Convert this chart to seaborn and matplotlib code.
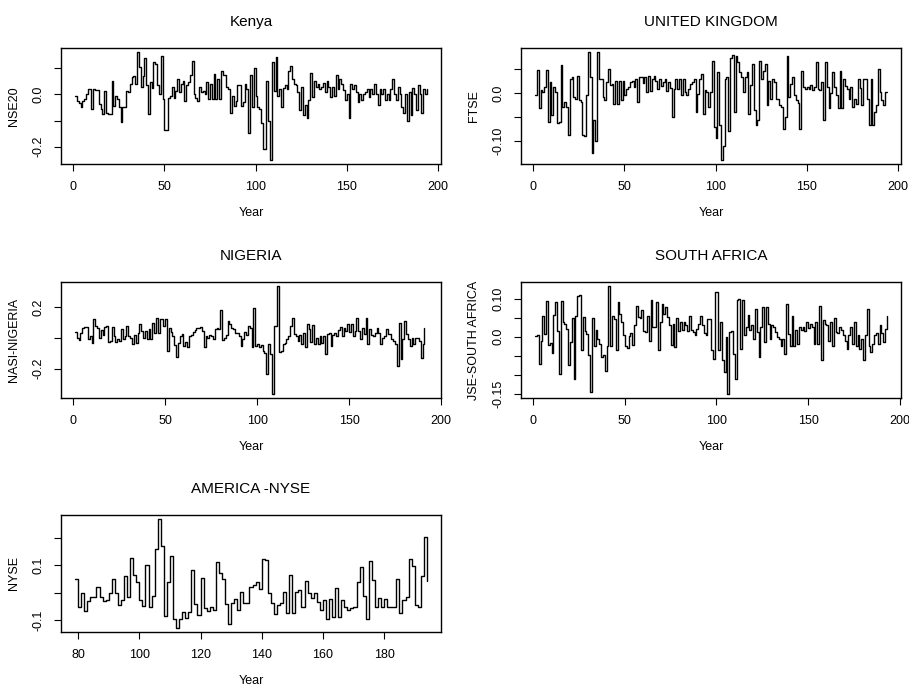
import numpy as np
import pandas as pd
import matplotlib
matplotlib.use("Agg")
import matplotlib.pyplot as plt
import seaborn as sns

# ---------------- data ----------------
kenya = [
    -0.005, -0.025, -0.034, -0.05, -0.025, -0.018, 0.0, 0.02, 0.02, -0.057,
    0.02, 0.018, 0.018, -0.038, -0.057, -0.077, 0.014, -0.07, -0.077, -0.077,
    0.053, -0.044, -0.008, -0.018, -0.05, -0.106, -0.048, -0.05, 0.014, 0.01,
    0.04, 0.066, 0.07, 0.04, 0.161, 0.105, 0.03, 0.07, 0.138, 0.034,
    -0.077, 0.047, 0.023, 0.125, 0.118, 0.034, 0.0, 0.148, -0.018, -0.135,
    -0.135, -0.012, -0.005, 0.027, -0.012, 0.014, 0.06, 0.008, 0.04, 0.053,
    -0.025, 0.034, 0.047, 0.075, 0.127, 0.0, -0.012, -0.025, 0.027, 0.008,
    0.014, 0.0, 0.047, -0.018, 0.04, -0.018, 0.079, -0.018, 0.06, -0.018,
    0.088, 0.073, 0.073, 0.027, 0.02, -0.07, -0.005, -0.044, -0.025, 0.034,
    0.036, -0.044, -0.031, 0.04, 0.02, -0.148, 0.075, -0.05, 0.099, -0.005,
    -0.05, -0.057, -0.11, -0.21, -0.21, 0.053, -0.1, -0.25, 0.125, 0.014, 0.144,
    -0.005, 0.02, -0.05, 0.023, 0.034, 0.02, 0.09, 0.11, 0.06, 0.04,
    0.035, 0.01, -0.06, 0.03, -0.08, -0.04, -0.09, -0.02, 0.08, -0.01,
    0.05, 0.03, 0.04, 0.02, 0.03, 0.045, 0.01, 0.05, 0.03, -0.01,
    0.03, -0.005, 0.075, 0.02, 0.06, 0.04, 0.015, -0.02, 0.0, -0.09,
    0.04, 0.02, 0.035, 0.01, -0.03, 0.0, -0.02, 0.0, 0.01, 0.02,
    -0.01, 0.02, 0.0, 0.04, 0.0, -0.04, 0.02, 0.0, 0.02, -0.02,
    0.0, -0.02, 0.02, 0.06, 0.0, -0.02, 0.03, 0.0, -0.05, -0.07,
    0.0, -0.10, 0.01, -0.08, 0.025, 0.0, -0.06, 0.035, 0.0, -0.07,
    0.02, 0.0, 0.02,
]

uk = [
    -0.005, 0.049, -0.032, 0.006, 0.002, 0.012, 0.049, -0.060, 0.024, -0.046,
    0.012, 0.002, -0.063, -0.060, 0.058, -0.029, -0.019, -0.029, -0.087, 0.030,
    0.033, -0.008, -0.012, 0.035, -0.015, -0.019, -0.087, -0.090, -0.005, 0.085,
    0.033, -0.125, -0.056, -0.101, 0.085, 0.030, 0.030, -0.008, -0.015, 0.023,
    0.050, 0.016, 0.019, -0.022, 0.026, -0.022, 0.026, -0.015, 0.026, -0.005,
    0.009, 0.012, 0.023, 0.026, 0.012, 0.030, -0.019, 0.033, 0.033, 0.020,
    0.033, 0.002, 0.036, 0.005, 0.030, 0.036, 0.026, 0.009, 0.030, 0.015,
    0.023, 0.030, 0.005, 0.023, 0.010, -0.050, 0.009, 0.030, 0.009, 0.030,
    -0.005, 0.030, 0.002, -0.005, 0.009, 0.019, 0.023, 0.030, -0.039, -0.001,
    0.030, 0.040, -0.043, 0.006, 0.002, -0.029, 0.002, 0.067, -0.070, -0.094,
    0.043, -0.067, -0.139, -0.111, 0.030, 0.033, -0.080, 0.074, 0.079, -0.039,
    0.078, 0.064, 0.043, 0.033, 0.002, 0.033, 0.043, -0.043, 0.016, 0.061,
    -0.036, -0.067, -0.056, 0.067, 0.030, 0.045, 0.061, -0.025, 0.026, -0.012,
    0.030, 0.023, -0.012, -0.012, -0.025, -0.030, -0.074, -0.050, 0.078, -0.008,
    0.019, 0.033, -0.005, -0.015, -0.020, -0.074, 0.047, 0.012, 0.009, 0.012,
    0.009, 0.016, 0.006, 0.012, 0.064, 0.009, 0.006, 0.023, -0.056, 0.064,
    0.012, -0.032, 0.0, 0.043, 0.012, -0.005, -0.032, 0.047, -0.032, 0.030,
    0.015, 0.009, -0.012, 0.012, -0.029, -0.012, -0.022, 0.030, 0.010, -0.025,
    0.030, 0.030, -0.012, -0.067, 0.030, -0.067, -0.040, -0.025, 0.050, 0.002,
    -0.015, -0.025, 0.002, 0.002,
]

nigeria = [
    0.039, 0.002, -0.013, 0.034, 0.067, 0.073, 0.073, -0.009, 0.013, -0.034,
    0.125, 0.077, 0.067, 0.002, 0.052, 0.02, 0.073, 0.077, -0.026, -0.019,
    0.073, 0.013, -0.026, -0.009, -0.019, 0.060, -0.009, 0.013, 0.077, 0.013,
    0.002, -0.040, 0.02, -0.034, 0.034, 0.088, 0.045, 0.002, 0.045, -0.009,
    0.056, -0.009, 0.099, 0.03, 0.131, 0.030, 0.125, 0.120, 0.077, 0.125,
    -0.084, 0.067, 0.039, 0.009, -0.047, -0.127, -0.034, 0.013, 0.024, -0.052,
    -0.026, -0.062, 0.013, 0.017, 0.04, 0.052, 0.067, 0.067, 0.073, 0.045,
    -0.062, 0.013, 0.002, 0.02, 0.009, -0.009, 0.060, 0.067, 0.060, 0.181,
    -0.013, 0.002, 0.017, 0.110, 0.088, 0.067, 0.056, 0.03, 0.030, 0.013,
    -0.052, -0.009, 0.04, 0.017, 0.077, 0.067, -0.062, 0.196,
    -0.052, -0.041, -0.062, -0.047, -0.084, -0.099, -0.234, -0.041, -0.105, -0.363,
    0.077, 0.077, 0.335, -0.095, -0.084, -0.041, -0.034, -0.009, 0.013, 0.077,
    0.131, 0.024, 0.013, -0.019, 0.02, -0.041, 0.034, -0.062, 0.088, 0.056,
    -0.030, 0.082, -0.041, 0.0, -0.041, 0.013, -0.034, 0.013, -0.105, 0.024,
    0.034, -0.052, 0.02, 0.034, 0.013, 0.052, 0.073, 0.013, 0.067, 0.045,
    0.088, 0.04, 0.088, 0.013, 0.045, 0.131, 0.045, -0.009, 0.067, 0.024,
    0.131, -0.041, 0.056, 0.02, 0.013, 0.034, 0.067, 0.034, -0.041, 0.002,
    0.013, 0.056, 0.024, 0.024, -0.009, -0.019, -0.041, -0.181, 0.099, -0.138,
    -0.009, 0.110, 0.024, -0.009, -0.052, 0.002, -0.041, 0.002, 0.002, -0.02,
    -0.133, -0.041, 0.067,
]

south_africa = [
    0.002, 0.004, -0.071, -0.012, 0.054, 0.006, 0.094, -0.021, -0.016, -0.042,
    0.058, 0.091, 0.016, -0.097, 0.094, 0.040, 0.034, 0.020, -0.074, -0.014,
    0.050, -0.111, 0.056, 0.107, 0.109, -0.034, 0.052, 0.014, 0.008, -0.049,
    -0.146, 0.049, -0.023, 0.019, -0.005, -0.020, -0.054, -0.049, -0.091, -0.023,
    0.133, -0.023, 0.054, 0.047, -0.036, 0.091, 0.060, 0.038, 0.005, -0.023,
    -0.030, 0.002, 0.010, -0.021, 0.030, 0.081, 0.052, 0.049, 0.070, 0.014,
    0.012, 0.054, -0.010, 0.096, 0.027, 0.025, 0.091, -0.036, 0.039, 0.087,
    0.060, 0.078, 0.052, 0.030, -0.021, 0.034, -0.027, 0.049, 0.016, 0.040,
    0.019, 0.039, 0.032, 0.016, 0.056, 0.019, 0.012, 0.004, 0.020, 0.034,
    0.056, 0.030, 0.011, 0.004, 0.046, 0.046, -0.036, -0.058, 0.118, 0.118,
    -0.036, 0.039, -0.060, -0.093, -0.001, -0.150, 0.012, 0.014, -0.045, -0.111,
    0.097, 0.100, -0.032, 0.097, 0.004, 0.025, 0.058, 0.017, 0.030, -0.005,
    0.074, 0.012, -0.054, 0.025, 0.078, -0.014, 0.078, 0.034, -0.005, 0.030,
    0.025, 0.012, -0.001, -0.005, -0.023, -0.005, -0.045, 0.087, 0.008, -0.023,
    0.056, -0.023, 0.019, -0.018, 0.025, 0.017, 0.025, 0.014, 0.039, 0.023,
    0.034, 0.025, -0.018, 0.039, -0.018, 0.082, -0.060, 0.043, 0.034, 0.030,
    -0.010, 0.039, -0.023, 0.049, 0.012, 0.011, 0.025, 0.017, 0.004, -0.010,
    -0.032, 0.004, 0.025, -0.018, 0.040, -0.023, 0.004, -0.032, -0.005, -0.060,
    0.004, 0.074, -0.023, -0.040, -0.018, 0.004, 0.010, -0.020, 0.030, 0.010,
    -0.015, 0.020, 0.056,
]

nyse_years = list(range(79, 195))
nyse = [
    0.051, -0.050, -0.001, -0.065, -0.028, -0.013, -0.016, 0.021, -0.016, -0.028,
    -0.026, -0.001, 0.051, 0.001, -0.044, -0.026, 0.062, -0.016, 0.127, 0.066,
    0.041, -0.026, -0.048, 0.102, -0.050, -0.011, 0.160, 0.267, 0.170, -0.084,
    0.041, 0.133, -0.093, -0.126, -0.096, -0.068, -0.090, -0.068, 0.084, -0.041,
    -0.080, 0.054, -0.056, -0.065, -0.050, -0.062, 0.111, 0.072, 0.050, -0.041,
    -0.111, -0.038, -0.023, -0.062, 0.005, -0.035, -0.035, 0.023, 0.029, 0.038,
    0.013, 0.123, 0.118, -0.001, -0.035, -0.077, -0.044, -0.038, 0.005, -0.074,
    0.066, -0.074, 0.005, 0.009, -0.050, 0.045, -0.001, -0.020, 0.001, -0.032,
    -0.062, -0.026, -0.093, -0.023, -0.089, 0.017, -0.089, -0.026, -0.050, -0.062,
    -0.056, -0.050, 0.041, 0.094, -0.011, -0.093, 0.115, 0.048, -0.050, -0.020,
    -0.052, -0.023, -0.050, -0.050, -0.050, 0.050, -0.074, -0.026, -0.013, 0.123,
    0.096, -0.044, -0.050, 0.060, 0.204, 0.045,
]

titles = ["Kenya", "UNITED KINGDOM", "NIGERIA", "SOUTH AFRICA", "AMERICA -NYSE"]
ylabels = ["NSE20", "FTSE", "NASI-NIGERIA", "JSE-SOUTH AFRICA", "NYSE"]

# ---------------- figure ----------------
sns.set_style("ticks")
plt.rcParams["font.family"] = ["Liberation Sans", "DejaVu Sans"]
plt.rcParams["text.color"] = "black"
plt.rcParams["axes.labelcolor"] = "black"

W, H = 909, 689
fig = plt.figure(figsize=(W / 100, H / 100), dpi=100)


def rect(left, top, width, height):
    return [left / W, 1 - (top + height) / H, width / W, height / H]


panels = [
    dict(rect=rect(61, 48, 380, 116), x=np.arange(1, len(kenya) + 1), y=kenya,
         yt=[-0.2, -0.1, 0.0, 0.1], ytl=["-0.2", "", "0.0", ""],
         xt=[0, 50, 100, 150, 200]),
    dict(rect=rect(521, 48, 380, 116), x=np.arange(1, len(uk) + 1), y=uk,
         yt=[-0.10, -0.05, 0.0, 0.05], ytl=["-0.10", "", "0.0", ""],
         xt=[0, 50, 100, 150, 200]),
    dict(rect=rect(61, 282, 380, 116), x=np.arange(1, len(nigeria) + 1), y=nigeria,
         yt=[-0.2, 0.0, 0.2], ytl=["-0.2", "", "0.2"],
         xt=[0, 50, 100, 150, 200]),
    dict(rect=rect(521, 282, 380, 116), x=np.arange(1, len(south_africa) + 1), y=south_africa,
         yt=[-0.15, -0.10, -0.05, 0.0, 0.05, 0.10], ytl=["-0.15", "", "", "0.0", "", "0.10"],
         xt=[0, 50, 100, 150, 200]),
    dict(rect=rect(61, 515, 380, 117), x=np.array(nyse_years), y=nyse,
         yt=[-0.1, 0.0, 0.1, 0.2], ytl=["-0.1", "", "0.1", ""],
         xt=[80, 100, 120, 140, 160, 180]),
]

for p, title, ylab in zip(panels, titles, ylabels):
    ax = fig.add_axes(p["rect"])
    df = pd.DataFrame({"Year": p["x"], "value": p["y"]})
    sns.lineplot(data=df, x="Year", y="value", ax=ax, color="black", linewidth=1.0,
                 drawstyle="steps-post", estimator=None, sort=False)
    ax.margins(x=0.04, y=0.04)
    ax.autoscale_view()
    for s in ax.spines.values():
        s.set_visible(True)
        s.set_linewidth(1.0)
        s.set_color("black")
    ax.set_xticks(p["xt"])
    ax.set_xticklabels([str(v) for v in p["xt"]])
    ax.set_yticks(p["yt"])
    ax.set_yticklabels(p["ytl"], rotation=90, va="center")
    ax.tick_params(direction="out", length=5, width=0.8, labelsize=9,
                   colors="black", labelcolor="black", pad=7)
    ax.set_title(title, fontsize=11, pad=16, color="black")
    ax.set_xlabel("Year", fontsize=9, color="black")
    ax.xaxis.set_label_coords(0.5, -0.37)
    ax.set_ylabel(ylab, fontsize=9, color="black")
    ax.yaxis.set_label_coords(-0.108, 0.5)
    ax.grid(False)

fig.savefig("out.png", dpi=100, facecolor="white")
